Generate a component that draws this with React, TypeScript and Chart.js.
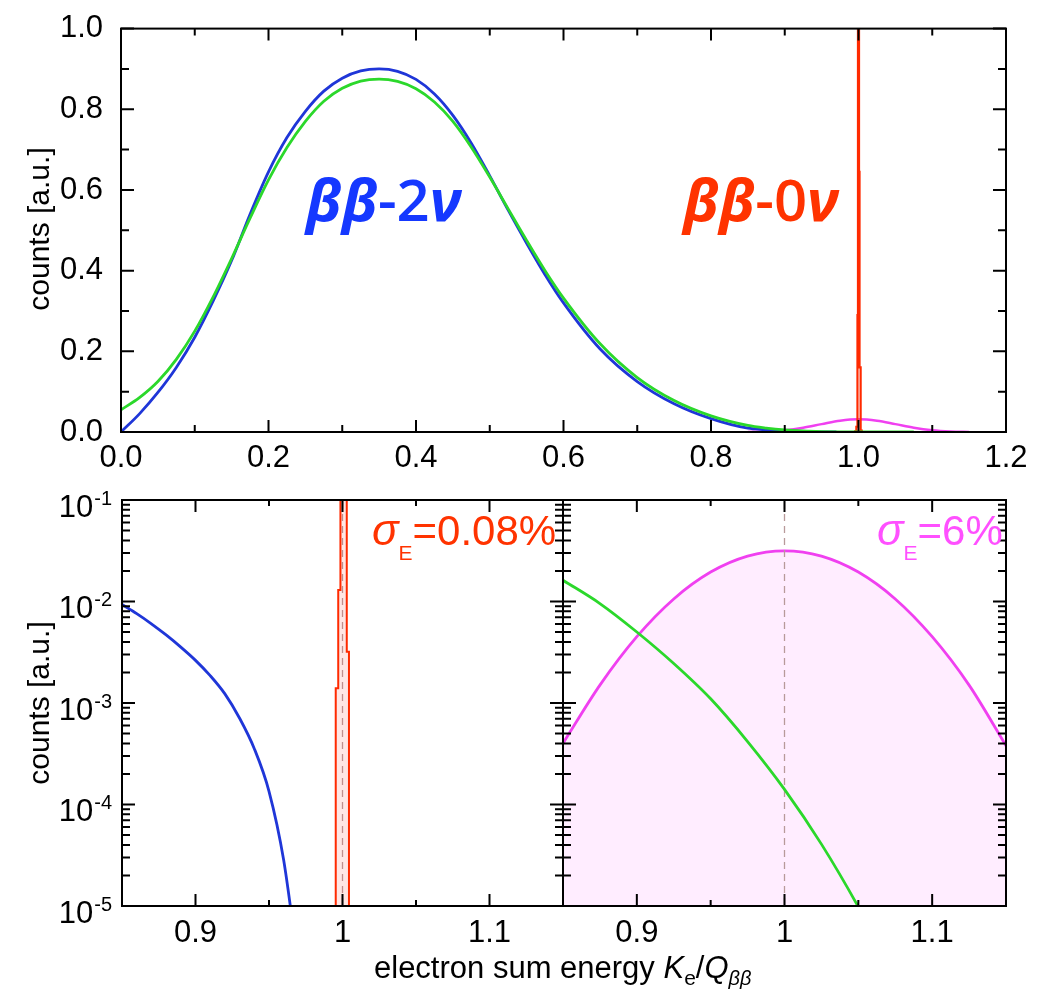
import React, { useEffect, useRef } from 'react';
import { Chart, registerables } from 'chart.js';

Chart.register(...registerables);

// ---------------- data ----------------
// 2nu double-beta sum spectrum (blue), main part
const blueMainX = [0, 0.025, 0.05, 0.075, 0.1, 0.125, 0.15, 0.175, 0.2, 0.225, 0.25, 0.275, 0.3, 0.325, 0.35, 0.375, 0.4, 0.425, 0.45, 0.475, 0.5, 0.525, 0.55, 0.575, 0.6, 0.65, 0.7, 0.75, 0.8];
const blueMainY = [0, 0.045, 0.098, 0.16, 0.235, 0.325, 0.425, 0.54, 0.645, 0.73, 0.795, 0.845, 0.877, 0.895, 0.9, 0.894, 0.874, 0.838, 0.785, 0.716, 0.635, 0.55, 0.468, 0.39, 0.32, 0.205, 0.125, 0.07, 0.033];
// blue tail near the endpoint
const blueTailX = [0.85, 0.86, 0.87, 0.88, 0.89, 0.9, 0.91, 0.92, 0.93, 0.94, 0.95, 0.96, 0.97];
const blueTailY = [9.33e-3, 7.59e-3, 6.03e-3, 4.68e-3, 3.55e-3, 2.63e-3, 1.86e-3, 1.23e-3, 7.08e-4, 3.55e-4, 1.35e-4, 2.82e-5, 2.5e-6];

// smeared 2nu spectrum (green)
const greenMainX = [0, 0.025, 0.05, 0.075, 0.1, 0.125, 0.15, 0.175, 0.2, 0.225, 0.25, 0.275, 0.3, 0.325, 0.35, 0.375, 0.4, 0.425, 0.45, 0.475, 0.5, 0.525, 0.55, 0.575, 0.6, 0.65, 0.7, 0.75, 0.8];
const greenMainY = [0.055, 0.085, 0.125, 0.18, 0.25, 0.335, 0.43, 0.53, 0.625, 0.705, 0.77, 0.82, 0.852, 0.87, 0.875, 0.869, 0.851, 0.818, 0.77, 0.706, 0.632, 0.553, 0.475, 0.4, 0.332, 0.218, 0.135, 0.078, 0.04];
const greenTailX = [0.85, 0.875, 0.9, 0.925, 0.95, 0.975, 1.0, 1.025, 1.05, 1.075];
const greenTailY = [1.62e-2, 9.55e-3, 5.01e-3, 2.45e-3, 1.1e-3, 4.17e-4, 1.41e-4, 4.07e-5, 9.8e-6, 2e-6];

// 0nu peak with sigma_E = 6% (magenta)
const wideX = [0.85, 0.875, 0.9, 0.925, 0.95, 0.975, 1.0, 1.025, 1.05, 1.075, 1.1, 1.125, 1.15];
const wideY = [4.0e-4, 1.5e-3, 4.5e-3, 1.06e-2, 1.95e-2, 2.8e-2, 3.16e-2, 2.8e-2, 1.95e-2, 1.06e-2, 4.5e-3, 1.5e-3, 3.8e-4];

// 0nu peak with sigma_E = 0.08% (red histogram: bin left edges and counts)
const narrowEdges = [0.994, 0.9954, 0.9971, 0.9986, 0.9993, 1.0, 1.0007, 1.0014, 1.0029, 1.0044, 1.006];
const narrowCounts = [0, 1.4e-3, 1.3e-2, 0.29, 1.25, 1.25, 0.645, 0.16, 3.2e-3, 0, 0];

// reference line at Q
const qLineX = [1, 1];
const qLineY = [1e-7, 1];

// ticks
const topXTicks = [0, 0.2, 0.4, 0.6, 0.8, 1.0, 1.2];
const topXLabels = ['0.0', '0.2', '0.4', '0.6', '0.8', '1.0', '1.2'];
const topXMinor = [0.1, 0.3, 0.5, 0.7, 0.9, 1.1];
const topYTicks = [0, 0.2, 0.4, 0.6, 0.8, 1.0];
const topYLabels = ['0.0', '0.2', '0.4', '0.6', '0.8', '1.0'];
const topYMinor = [0.1, 0.3, 0.5, 0.7, 0.9];
const botXTicks = [0.9, 1.0, 1.1];
const botXLabels = ['0.9', '1', '1.1'];
const botXMinor = [0.95, 1.05];
const logTicks = [1e-1, 1e-2, 1e-3, 1e-4, 1e-5];
const logExps = ['-1', '-2', '-3', '-4', '-5'];
const logMinorMult = [2, 3, 4, 5, 6, 7, 8, 9];

// ---------------- styles ----------------
const FONT = "'Liberation Sans', Arial, Helvetica, sans-serif";
const LABEL_FONT = "'Open Sans', 'DejaVu Sans', sans-serif";
const BLUE = '#1f36d8';
const GREEN = '#2bd82b';
const RED = '#ff2a00';
const MAGENTA = '#f040f0';

const zip = (xs: number[], ys: number[], floor = -Infinity) => xs.map((x, i) => ({ x, y: Math.max(ys[i], floor) }));

const logMinor: number[] = [];
logTicks.forEach((d) => {
  if (d < 1e-1) logMinorMult.forEach((m) => logMinor.push(d * m));
});

type Run = { t: string; f: string; dy?: number };
function runsWidth(ctx: CanvasRenderingContext2D, runs: Run[]) {
  let w = 0;
  runs.forEach((r) => {
    ctx.font = r.f;
    w += ctx.measureText(r.t).width;
  });
  return w;
}
function drawRuns(ctx: CanvasRenderingContext2D, x: number, y: number, runs: Run[], color: string, alignRight = false) {
  ctx.save();
  ctx.fillStyle = color;
  ctx.textAlign = 'left';
  ctx.textBaseline = 'alphabetic';
  let cx = alignRight ? x - runsWidth(ctx, runs) : x;
  runs.forEach((r) => {
    ctx.font = r.f;
    ctx.fillText(r.t, cx, y + (r.dy || 0));
    cx += ctx.measureText(r.t).width;
  });
  ctx.restore();
}

function drawFrame(chart: any, spec: { xMajor: number[]; xMinor: number[]; yMajor: number[]; yMinor: number[]; xMinLen: number; yMinLen: number }) {
  const { ctx, chartArea: a, scales } = chart;
  const xs = scales.x;
  const ys = scales.y;
  ctx.save();
  ctx.strokeStyle = '#000';
  ctx.lineWidth = 2;
  ctx.beginPath();
  const seg = (x1: number, y1: number, x2: number, y2: number) => {
    ctx.moveTo(x1, y1);
    ctx.lineTo(x2, y2);
  };
  const vx = (v: number, len: number) => {
    const p = xs.getPixelForValue(v);
    seg(p, a.bottom, p, a.bottom - len);
    seg(p, a.top, p, a.top + len);
  };
  const vy = (v: number, len: number) => {
    const p = ys.getPixelForValue(v);
    seg(a.left, p, a.left + len, p);
    seg(a.right, p, a.right - len, p);
  };
  spec.xMajor.forEach((v) => vx(v, 12));
  spec.xMinor.forEach((v) => vx(v, spec.xMinLen));
  spec.yMajor.forEach((v) => vy(v, 13));
  spec.yMinor.forEach((v) => vy(v, spec.yMinLen));
  ctx.stroke();
  ctx.strokeRect(a.left, a.top, a.right - a.left, a.bottom - a.top);
  ctx.restore();
}

function drawYTitle(ctx: CanvasRenderingContext2D, x: number, y: number) {
  ctx.save();
  ctx.translate(x, y);
  ctx.rotate(-Math.PI / 2);
  ctx.font = `30px ${FONT}`;
  ctx.fillStyle = '#000';
  ctx.textAlign = 'center';
  ctx.textBaseline = 'middle';
  ctx.fillText('counts [a.u.]', 0, 0);
  ctx.restore();
}

const lineDs = (label: string, data: any[], color: string, extra: any = {}) => ({
  label,
  data,
  borderColor: color,
  backgroundColor: color,
  borderWidth: 2.8,
  pointRadius: 0,
  fill: false,
  cubicInterpolationMode: 'monotone',
  ...extra,
});

const tickFont = { family: FONT, size: 31 };

function processLabel(greek1: string, mid: string, greek2: string): Run[] {
  return [
    { t: greek1, f: `italic 700 58px ${LABEL_FONT}` },
    { t: mid, f: `600 58px ${LABEL_FONT}` },
    { t: greek2, f: `italic 700 58px ${LABEL_FONT}` },
  ];
}

function topConfig(): any {
  return {
    type: 'line',
    data: {
      datasets: [
        lineDs('2nu smeared', zip([...greenMainX, ...greenTailX], [...greenMainY, ...greenTailY]), GREEN),
        lineDs('2nu', zip([...blueMainX, ...blueTailX], [...blueMainY, ...blueTailY]), BLUE),
        lineDs('0nu 0.08%', zip(narrowEdges, narrowCounts), RED, { stepped: true, borderWidth: 2.2, cubicInterpolationMode: 'default' }),
        lineDs('0nu 6%', zip(wideX, wideY), MAGENTA, { borderWidth: 2.4 }),
      ],
    },
    options: {
      animation: false,
      responsive: false,
      maintainAspectRatio: false,
      devicePixelRatio: 1,
      layout: { padding: { left: 0, top: 26, right: 39, bottom: 0 } },
      plugins: { legend: { display: false }, tooltip: { enabled: false } },
      scales: {
        x: {
          type: 'linear', min: 0, max: 1.2,
          grid: { display: false }, border: { display: false },
          ticks: { font: tickFont, color: '#000', padding: 0, maxRotation: 0, autoSkip: false, callback: (_v: any, i: number) => topXLabels[i] },
          afterBuildTicks: (s: any) => { s.ticks = topXTicks.map((v) => ({ value: v })); },
          afterFit: (s: any) => { s.height = 46; },
        },
        y: {
          type: 'linear', min: 0, max: 1,
          grid: { display: false }, border: { display: false },
          ticks: { font: tickFont, color: '#000', padding: 10, autoSkip: false, callback: (_v: any, i: number) => topYLabels[i] },
          afterBuildTicks: (s: any) => { s.ticks = topYTicks.map((v) => ({ value: v })); },
          afterFit: (s: any) => { s.width = 121; },
        },
      },
    },
    plugins: [
      {
        id: 'topDecor',
        afterDraw(chart: any) {
          const ctx = chart.ctx;
          drawFrame(chart, { xMajor: topXTicks, xMinor: topXMinor, yMajor: topYTicks, yMinor: topYMinor, xMinLen: 7, yMinLen: 8 });
          drawYTitle(ctx, 41, 229);
          drawRuns(ctx, 306, 221, processLabel('ββ', '-2', 'ν'), '#1538ff');
          drawRuns(ctx, 839, 221, processLabel('ββ', '-0', 'ν'), '#ff3300', true);
        },
      },
    ],
  };
}

function bottomScales(leftWidth: number | null): any {
  return {
    x: {
      type: 'linear', min: 0.85, max: 1.15,
      grid: { display: false }, border: { display: false },
      ticks: { font: tickFont, color: '#000', padding: 1, maxRotation: 0, autoSkip: false, callback: (_v: any, i: number) => botXLabels[i] },
      afterBuildTicks: (s: any) => { s.ticks = botXTicks.map((v) => ({ value: v })); },
      afterFit: (s: any) => { s.height = 83; },
    },
    y: {
      type: 'logarithmic', min: 1e-5, max: 1e-1,
      display: leftWidth !== null,
      grid: { display: false }, border: { display: false },
      ticks: { display: false },
      afterFit: (s: any) => { if (leftWidth !== null) s.width = leftWidth; },
    },
  };
}

const refLine = () => lineDs('Q', zip(qLineX, qLineY), '#b89a9a', { borderWidth: 1.3, borderDash: [7, 5], cubicInterpolationMode: 'default' });

function bottomLeftConfig(): any {
  return {
    type: 'line',
    data: {
      datasets: [
        lineDs('0nu 0.08%', zip(narrowEdges, narrowCounts, 1e-8), RED, {
          stepped: true, borderWidth: 2, cubicInterpolationMode: 'default', fill: 'start', backgroundColor: 'rgba(255,60,40,0.12)',
        }),
        refLine(),
        lineDs('2nu', zip(blueTailX, blueTailY), BLUE),
      ],
    },
    options: {
      animation: false,
      responsive: false,
      maintainAspectRatio: false,
      devicePixelRatio: 1,
      layout: { padding: { left: 0, top: 22, right: 482, bottom: 0 } },
      plugins: { legend: { display: false }, tooltip: { enabled: false } },
      scales: bottomScales(122),
    },
    plugins: [
      {
        id: 'blDecor',
        afterDraw(chart: any) {
          const ctx = chart.ctx;
          const a = chart.chartArea;
          drawFrame(chart, { xMajor: botXTicks, xMinor: botXMinor, yMajor: logTicks, yMinor: logMinor, xMinLen: 6, yMinLen: 8 });
          drawYTitle(ctx, 41, (a.top + a.bottom) / 2);
          // log tick labels 10^n
          const ys = chart.scales.y;
          ctx.save();
          ctx.fillStyle = '#000';
          ctx.textBaseline = 'middle';
          logTicks.forEach((v, i) => {
            const p = ys.getPixelForValue(v);
            ctx.font = `20px ${FONT}`;
            const ws = ctx.measureText(logExps[i]).width;
            const supX = a.left - 10 - ws;
            ctx.textAlign = 'left';
            ctx.fillText(logExps[i], supX, p - 1);
            ctx.font = `31px ${FONT}`;
            ctx.textAlign = 'right';
            ctx.fillText('10', supX - 1, p + 8);
          });
          ctx.restore();
          drawRuns(ctx, 372, 67, [
            { t: 'σ', f: `italic 44px ${FONT}` },
            { t: 'E', f: `21px ${FONT}`, dy: 15 },
            { t: '=0.08%', f: `42px ${FONT}` },
          ], '#ff3300');
          drawRuns(ctx, 374, 500, [
            { t: 'electron sum energy ', f: `31px ${FONT}` },
            { t: 'K', f: `italic 31px ${FONT}` },
            { t: 'e', f: `21px ${FONT}`, dy: 7 },
            { t: '/', f: `31px ${FONT}` },
            { t: 'Q', f: `italic 31px ${FONT}` },
            { t: 'ββ', f: `italic 20px ${FONT}`, dy: 7 },
          ], '#000');
        },
      },
    ],
  };
}

function bottomRightConfig(): any {
  return {
    type: 'line',
    data: {
      datasets: [
        lineDs('2nu smeared', zip(greenTailX, greenTailY), GREEN),
        refLine(),
        lineDs('0nu 6%', zip(wideX, wideY), MAGENTA, { fill: 'start', backgroundColor: 'rgba(255,0,255,0.07)' }),
      ],
    },
    options: {
      animation: false,
      responsive: false,
      maintainAspectRatio: false,
      devicePixelRatio: 1,
      layout: { padding: { left: 18, top: 22, right: 39, bottom: 0 } },
      plugins: { legend: { display: false }, tooltip: { enabled: false } },
      scales: bottomScales(null),
    },
    plugins: [
      {
        id: 'brDecor',
        afterDraw(chart: any) {
          const ctx = chart.ctx;
          drawFrame(chart, { xMajor: botXTicks, xMinor: botXMinor, yMajor: logTicks, yMinor: logMinor, xMinLen: 6, yMinLen: 8 });
          drawRuns(ctx, 332, 67, [
            { t: 'σ', f: `italic 44px ${FONT}` },
            { t: 'E', f: `21px ${FONT}`, dy: 15 },
            { t: '=6%', f: `42px ${FONT}` },
          ], '#ff50ff');
        },
      },
    ],
  };
}

export default function App() {
  const topRef = useRef<HTMLCanvasElement>(null);
  const blRef = useRef<HTMLCanvasElement>(null);
  const brRef = useRef<HTMLCanvasElement>(null);

  useEffect(() => {
    Chart.defaults.font.family = FONT;
    const charts = [
      new Chart(topRef.current as HTMLCanvasElement, topConfig()),
      new Chart(blRef.current as HTMLCanvasElement, bottomLeftConfig()),
      new Chart(brRef.current as HTMLCanvasElement, bottomRightConfig()),
    ];
    return () => charts.forEach((c) => c.destroy());
  }, []);

  return (
    <div style={{ position: 'absolute', left: 0, top: 0, width: 1045, height: 989, background: '#fff', overflow: 'hidden' }}>
      <canvas ref={topRef} width={1045} height={478} style={{ position: 'absolute', left: 0, top: 0, width: 1045, height: 478 }} />
      <canvas ref={blRef} width={1045} height={511} style={{ position: 'absolute', left: 0, top: 478, width: 1045, height: 511 }} />
      <canvas ref={brRef} width={500} height={511} style={{ position: 'absolute', left: 545, top: 478, width: 500, height: 511 }} />
    </div>
  );
}
